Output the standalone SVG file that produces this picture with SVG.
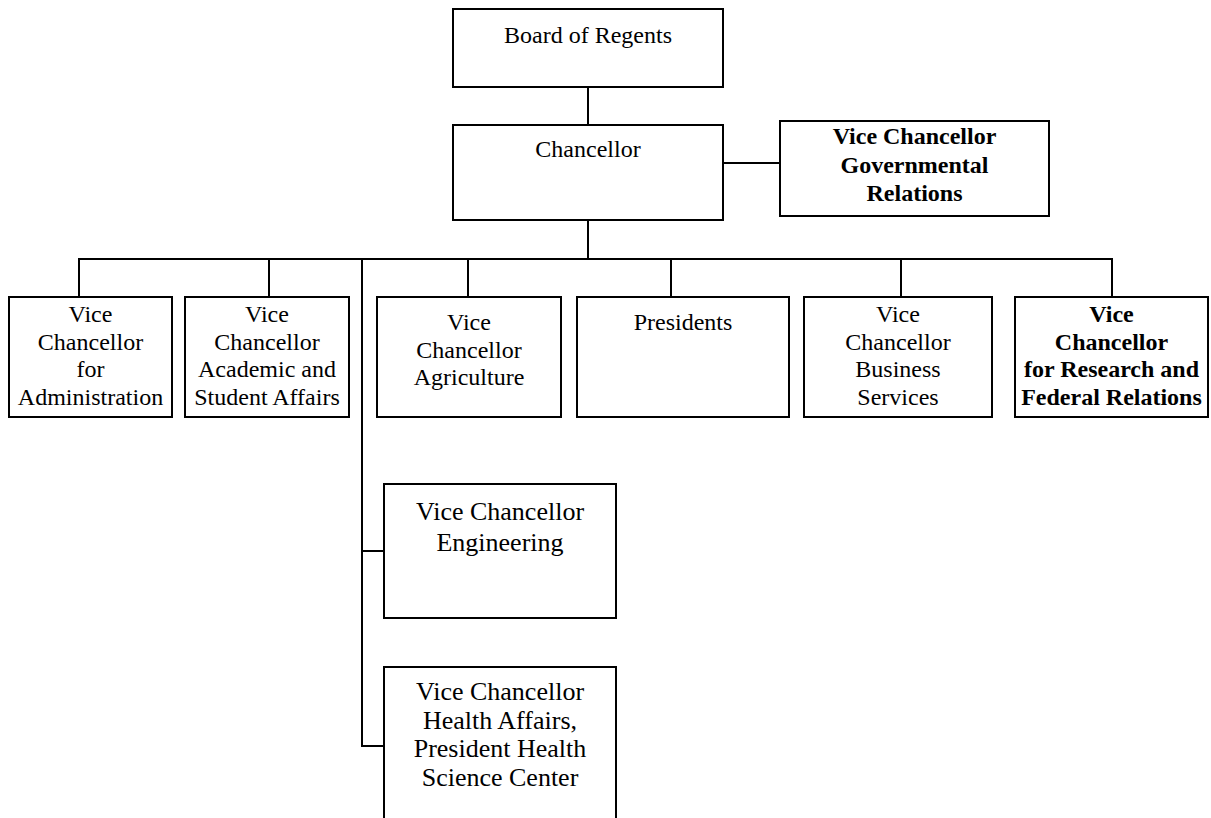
<svg xmlns="http://www.w3.org/2000/svg" width="1211" height="818" viewBox="0 0 1211 818">
  <style>
    .box { fill: #ffffff; stroke: #000000; stroke-width: 2; }
    .link { fill: none; stroke: #000000; stroke-width: 2; }
    .lbl { font-family: 'Liberation Serif', 'Times New Roman', Times, 'DejaVu Serif', serif; font-size: 24px; fill: #000000; text-anchor: middle; }
    .bold { font-weight: bold; }
    .big { font-size: 26px; }
  </style>
  <rect width="1211" height="818" fill="#ffffff"/>

  <!-- connectors -->
  <g id="connectors">
    <line class="link" x1="588" y1="87" x2="588" y2="125"/>
    <line class="link" x1="723" y1="163" x2="780" y2="163"/>
    <line class="link" x1="588" y1="220" x2="588" y2="259"/>
    <line class="link" x1="78" y1="259" x2="1113" y2="259"/>
    <line class="link" x1="79" y1="259" x2="79" y2="297"/>
    <line class="link" x1="269" y1="259" x2="269" y2="297"/>
    <line class="link" x1="468" y1="259" x2="468" y2="297"/>
    <line class="link" x1="671" y1="259" x2="671" y2="297"/>
    <line class="link" x1="901" y1="259" x2="901" y2="297"/>
    <line class="link" x1="1112" y1="259" x2="1112" y2="297"/>
    <line class="link" x1="362" y1="259" x2="362" y2="747"/>
    <line class="link" x1="362" y1="551" x2="384" y2="551"/>
    <line class="link" x1="362" y1="746" x2="384" y2="746"/>
  </g>

  <g id="board-of-regents">
    <rect class="box" x="453" y="9" width="270" height="78"/>
    <text class="lbl" x="588" y="43">Board of Regents</text>
  </g>

  <g id="chancellor">
    <rect class="box" x="453" y="125" width="270" height="95"/>
    <text class="lbl" x="588" y="157">Chancellor</text>
  </g>

  <g id="vc-governmental-relations">
    <rect class="box" x="780" y="121" width="269" height="95"/>
    <text class="lbl bold" x="914.5" y="144">Vice Chancellor</text>
    <text class="lbl bold" x="914.5" y="172.5">Governmental</text>
    <text class="lbl bold" x="914.5" y="201">Relations</text>
  </g>

  <g id="vc-administration">
    <rect class="box" x="9" y="297" width="163" height="120"/>
    <text class="lbl" x="90.5" y="322">Vice</text>
    <text class="lbl" x="90.5" y="349.7">Chancellor</text>
    <text class="lbl" x="90.5" y="377.4">for</text>
    <text class="lbl" x="90.5" y="405">Administration</text>
  </g>

  <g id="vc-academic-student-affairs">
    <rect class="box" x="185" y="297" width="164" height="120"/>
    <text class="lbl" x="267" y="322">Vice</text>
    <text class="lbl" x="267" y="349.7">Chancellor</text>
    <text class="lbl" x="267" y="377.4">Academic and</text>
    <text class="lbl" x="267" y="405">Student Affairs</text>
  </g>

  <g id="vc-agriculture">
    <rect class="box" x="377" y="297" width="184" height="120"/>
    <text class="lbl" x="469" y="330">Vice</text>
    <text class="lbl" x="469" y="357.7">Chancellor</text>
    <text class="lbl" x="469" y="385.4">Agriculture</text>
  </g>

  <g id="presidents">
    <rect class="box" x="577" y="297" width="212" height="120"/>
    <text class="lbl" x="683" y="330">Presidents</text>
  </g>

  <g id="vc-business-services">
    <rect class="box" x="804" y="297" width="188" height="120"/>
    <text class="lbl" x="898" y="322">Vice</text>
    <text class="lbl" x="898" y="349.7">Chancellor</text>
    <text class="lbl" x="898" y="377.4">Business</text>
    <text class="lbl" x="898" y="405">Services</text>
  </g>

  <g id="vc-research-federal-relations">
    <rect class="box" x="1015" y="297" width="193" height="120"/>
    <text class="lbl bold" x="1111.5" y="322">Vice</text>
    <text class="lbl bold" x="1111.5" y="349.7">Chancellor</text>
    <text class="lbl bold" x="1111.5" y="377.4">for Research and</text>
    <text class="lbl bold" x="1111.5" y="405">Federal Relations</text>
  </g>

  <g id="vc-engineering">
    <rect class="box" x="384" y="484" width="232" height="134"/>
    <text class="lbl big" x="500" y="520">Vice Chancellor</text>
    <text class="lbl big" x="500" y="551">Engineering</text>
  </g>

  <g id="vc-health-affairs">
    <rect class="box" x="384" y="667" width="232" height="170"/>
    <text class="lbl big" x="500" y="700">Vice Chancellor</text>
    <text class="lbl big" x="500" y="728.5">Health Affairs,</text>
    <text class="lbl big" x="500" y="757">President Health</text>
    <text class="lbl big" x="500" y="785.5">Science Center</text>
  </g>
</svg>
